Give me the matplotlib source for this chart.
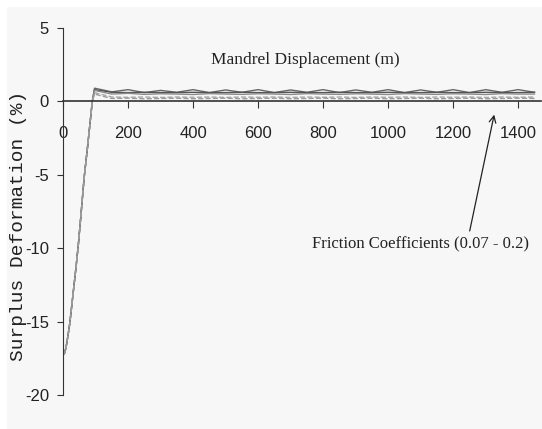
import numpy as np
import matplotlib
matplotlib.use('Agg')
import matplotlib.pyplot as plt
from matplotlib.patches import Rectangle

# mandrel displacement (m) and surplus deformation (%)
rise_x = [0, 4, 9, 15, 21, 30, 40, 47, 55, 65, 75, 84, 90]
rise_y = [-17.1, -17.2, -16.8, -16.0, -15.1, -13.3, -11.3, -9.8, -7.8, -5.2, -3.2, -1.3, 0.0]

plateau_x = [97, 150, 200, 250, 300, 350, 400, 450, 500, 550, 600, 650, 700, 750,
             800, 850, 900, 950, 1000, 1050, 1100, 1150, 1200, 1250, 1300, 1350, 1400, 1450]

friction = ['0.07', '0.10', '0.13', '0.16', '0.20']
plateau_y = {
    '0.07': [0.9, 0.65, 0.8, 0.6, 0.75, 0.62, 0.8, 0.6, 0.78, 0.62, 0.8, 0.6, 0.78, 0.62,
             0.8, 0.6, 0.78, 0.62, 0.8, 0.6, 0.78, 0.62, 0.8, 0.6, 0.8, 0.62, 0.8, 0.62],
    '0.10': [0.8, 0.62, 0.6, 0.62, 0.6, 0.6, 0.62, 0.6, 0.6, 0.62, 0.6, 0.6, 0.62, 0.6,
             0.6, 0.62, 0.6, 0.6, 0.62, 0.6, 0.6, 0.62, 0.6, 0.6, 0.62, 0.6, 0.6, 0.62],
    '0.13': [0.75, 0.5, 0.55, 0.48, 0.52, 0.5, 0.47, 0.53, 0.5, 0.48, 0.52, 0.5, 0.47, 0.53,
             0.5, 0.48, 0.52, 0.5, 0.47, 0.53, 0.5, 0.48, 0.52, 0.5, 0.47, 0.53, 0.5, 0.5],
    '0.16': [0.6, 0.3, 0.28, 0.3, 0.27, 0.3, 0.28, 0.3, 0.27, 0.3, 0.28, 0.3, 0.27, 0.3,
             0.28, 0.3, 0.27, 0.3, 0.28, 0.3, 0.27, 0.3, 0.28, 0.3, 0.27, 0.3, 0.28, 0.3],
    '0.20': [0.5, 0.2, 0.22, 0.18, 0.2, 0.22, 0.18, 0.2, 0.22, 0.18, 0.2, 0.22, 0.18, 0.2,
             0.22, 0.18, 0.2, 0.22, 0.18, 0.2, 0.22, 0.18, 0.2, 0.22, 0.18, 0.2, 0.22, 0.2],
}
line_colors = ['#666666', '#555555', '#8a8a8a', '#a8a8a8', '#9a9a9a']
line_styles = ['-', '-', '-', '--', '--']

xticks = [0, 200, 400, 600, 800, 1000, 1200, 1400]
yticks = [5, 0, -5, -10, -15, -20]

tick_font = dict(family='Liberation Sans', size=12)

fig = plt.figure(figsize=(5.42, 4.29), dpi=100)
fig.patch.set_facecolor('white')
fig.patches.append(Rectangle((7 / 542, 0), 1, 1 - 7 / 429, transform=fig.transFigure,
                             facecolor='#f7f7f7', edgecolor='none', zorder=-5))

ax = fig.add_axes([63 / 542, 1 - 395 / 429, 478 / 542, 367 / 429])
ax.set_facecolor('none')

for f, c, ls in zip(friction, line_colors, line_styles):
    xs = rise_x + plateau_x
    ys = rise_y + plateau_y[f]
    ax.plot(xs, ys, color=c, lw=1.0, ls=ls)

ax.set_xlim(0, 1470)
ax.set_ylim(-20, 5)

ax.spines['top'].set_visible(False)
ax.spines['right'].set_visible(False)
ax.spines['bottom'].set_position(('data', 0))
ax.spines['bottom'].set_color('#333333')
ax.spines['left'].set_color('#333333')
ax.spines['bottom'].set_linewidth(1.2)

ax.set_xticks(xticks)
ax.set_yticks(yticks)
ax.set_xticklabels([str(t) for t in xticks], fontdict=tick_font, color='#222222')
ax.set_yticklabels([str(t) for t in yticks], fontdict=tick_font, color='#222222')
ax.tick_params(axis='x', direction='out', length=5, pad=13, color='#333333')
ax.tick_params(axis='y', direction='out', length=4, pad=6, color='#333333')

ax.set_ylabel('Surplus Deformation (%)', family='Liberation Mono', size=14, color='#222222')
ax.yaxis.set_label_coords(-0.076, 0.46)

ax.text(0.506, 0.913, 'Mandrel Displacement (m)', transform=ax.transAxes, ha='center', va='center',
        family='Liberation Serif', size=12.5, color='#222222')

ax.annotate('Friction Coefficients (0.07 - 0.2)', xy=(1326, -0.9), xytext=(1434, -9.2),
            ha='right', va='top', family='Liberation Serif', size=12, color='#222222',
            arrowprops=dict(arrowstyle='->', color='#222222', lw=0.9, shrinkA=2, shrinkB=0,
                            relpos=(0.72, 1.0)))

fig.savefig('out.png', dpi=100)
